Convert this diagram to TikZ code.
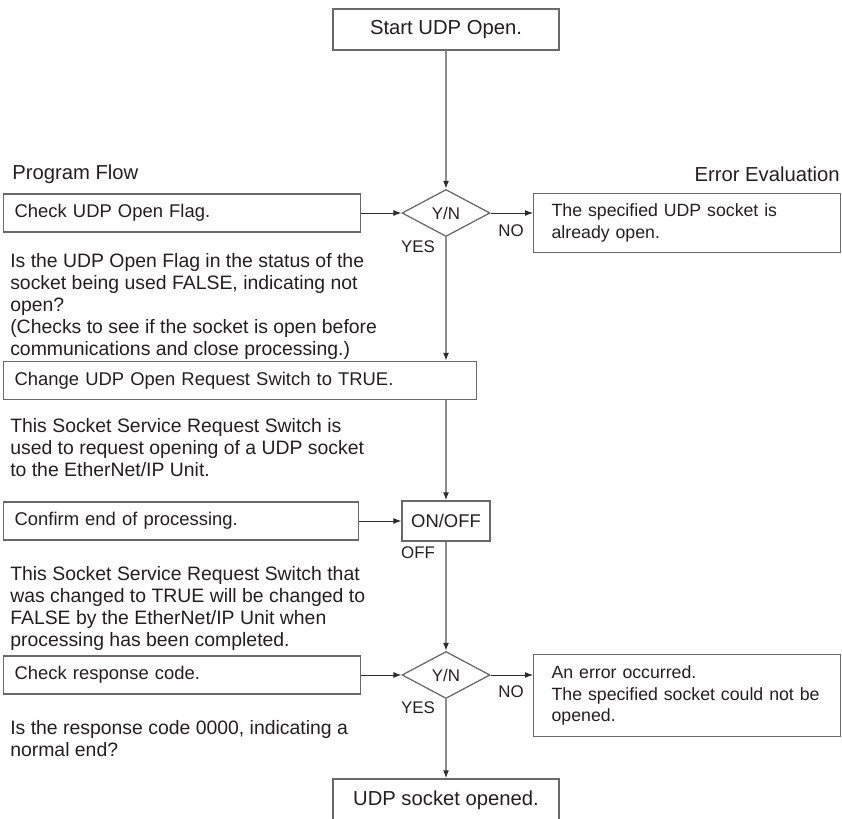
\documentclass[tikz,border=0pt]{standalone}
\usepackage{fontspec}
\setmainfont{Liberation Sans}
\usetikzlibrary{arrows.meta, positioning, shapes.geometric}
\definecolor{framegray}{RGB}{105,105,105}
\definecolor{flowgray} {RGB}{140,140,140}
\definecolor{darkline} {RGB}{45, 45, 45}
\definecolor{inktext}  {RGB}{35, 31, 32}

\begin{document}
\begin{tikzpicture}[x=0.025cm, y=-0.025cm,
  every node/.style={font=\fontsize{13.1pt}{15.65pt}\selectfont, text=inktext},
  small/.style={font=\fontsize{12pt}{14pt}\selectfont},
  head/.style={font=\fontsize{14.4pt}{16pt}\selectfont, inner sep=0pt},
  box/.style={draw=framegray, line width=0.9pt, rectangle},
  termbox/.style={box, font=\fontsize{14.4pt}{17pt}\selectfont, minimum width=5.65cm},
  stepbox/.style={box, align=left, inner xsep=0.275cm, text width=8.375cm, minimum height=0.95cm, anchor=west},
  errbox/.style={box, align=left, font=\fontsize{12.6pt}{15.3pt}\selectfont, inner xsep=0.45cm, text width=6.775cm, anchor=north west},
  decision/.style={diamond, draw=framegray, line width=0.9pt, inner sep=0pt, small, minimum width=2.2cm, minimum height=1.175cm},
  note/.style={align=left, inner sep=0pt, anchor=north west, font=\fontsize{13.8pt}{15.65pt}\selectfont},
  flow/.style={-{Latex[length=2mm, width=1.5mm, color=darkline]}, line width=1.1pt, color=flowgray},
  link/.style={-{Latex[length=2mm, width=1.5mm]}, line width=0.7pt, color=darkline}
]
  \useasboundingbox (0,0) rectangle (842,819);

  % Headings
  \node[termbox, minimum height=1.025cm] (start) at (446,29.5) {Start UDP Open.};
  \node[head, anchor=west] (flowhead) at (12,174) {Program Flow};
  \node[head, anchor=east] (errhead) at (840,174) {Error Evaluation};

  % Open flag check
  \node[stepbox] (chkflag) at (3,213) {Check UDP Open Flag.};
  \node[decision] (flagyn) at (446,213) {Y/N};
  \node[errbox, minimum height=1.475cm] (openerr) at (533,193) {The specified UDP socket is\\already open.};
  \node[small] (flagno) at (511,231) {NO};
  \node[small] (flagyes) at (418,247) {YES};
  \node[note] (flagnote) at (10,253) {Is the UDP Open Flag in the status of the\\socket being used FALSE, indicating not\\open?\\(Checks to see if the socket is open before\\communications and close processing.)};

  % Request switch
  \node[stepbox, text width=11.275cm] (reqsw) at (3,380.5) {Change UDP Open Request Switch to TRUE.};
  \node[note] (reqnote) at (10,418) {This Socket Service Request Switch is\\used to request opening of a UDP socket\\to the EtherNet/IP Unit.};

  % End of processing
  \node[stepbox, text width=8.325cm] (confirm) at (3,521) {Confirm end of processing.};
  \node[box, minimum width=2.2cm, minimum height=1.0cm] (onoff) at (446,521) {ON/OFF};
  \node[small] (offlbl) at (418,553) {OFF};
  \node[note] (confnote) at (10,566) {This Socket Service Request Switch that\\was changed to TRUE will be changed to\\FALSE by the EtherNet/IP Unit when\\processing has been completed.};

  % Response code
  \node[stepbox] (chkresp) at (3,675) {Check response code.};
  \node[decision] (respyn) at (446,675) {Y/N};
  \node[errbox, minimum height=2.05cm] (resperr) at (533,654) {An error occurred.\\The specified socket could not be\\opened.};
  \node[small] (respno) at (511,692) {NO};
  \node[small] (respyes) at (418,708) {YES};
  \node[note] (respnote) at (10,720) {Is the response code 0000, indicating a\\normal end?};

  \node[termbox, minimum height=1.075cm] (done) at (446,800.5) {UDP socket opened.};

  % Main flow
  \draw[flow] (start) -- (flagyn);
  \draw[flow] (flagyn) -- (flagyn |- reqsw.north);
  \draw[flow] (onoff |- reqsw.south) -- (onoff);
  \draw[flow] (onoff) -- (respyn);
  \draw[flow] (respyn) -- (done);

  % Side links
  \draw[link] (chkflag) -- (flagyn);
  \draw[link] (flagyn.east) -- (flagyn.east -| openerr.west);
  \draw[link] (confirm) -- (onoff);
  \draw[link] (chkresp) -- (respyn);
  \draw[link] (respyn.east) -- (respyn.east -| resperr.west);
\end{tikzpicture}
\end{document}
